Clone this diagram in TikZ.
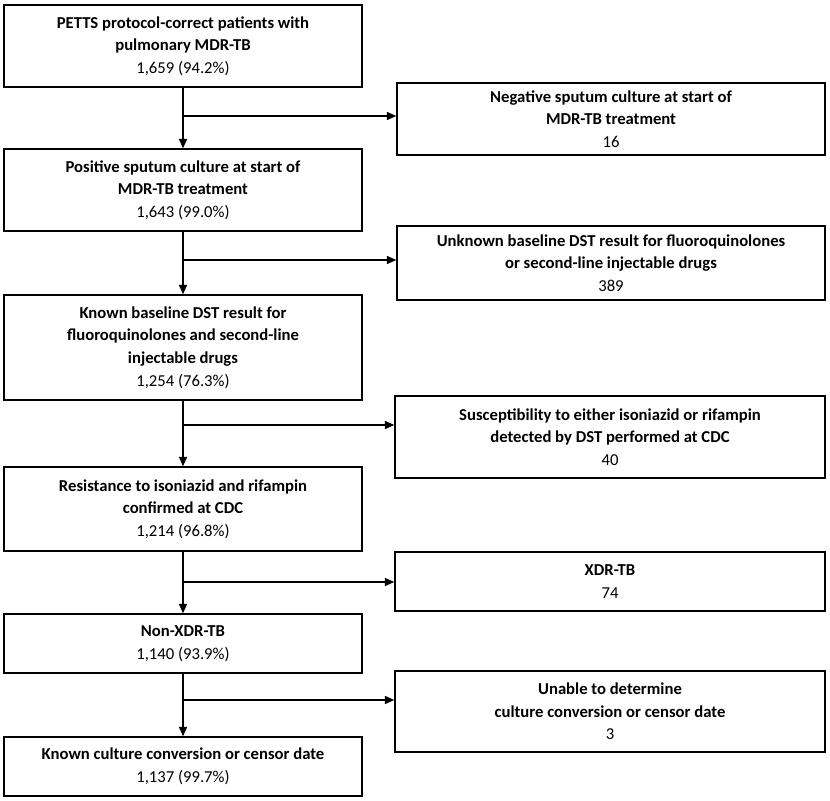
\documentclass[tikz,border=0pt]{standalone}
\usepackage{fontspec}
\setmainfont{Carlito}
\usetikzlibrary{arrows.meta}
\begin{document}
\begin{tikzpicture}[x=0.75pt,y=-0.75pt,
 box/.style={draw,line width=1.1pt,align=center,inner sep=0pt,font=\fontsize{12.5}{17}\selectfont},
 arr/.style={line width=1.1pt,-{Triangle[length=7pt,width=6pt]}}]
\useasboundingbox (0,0) rectangle (830,800);
\newcommand\bx[6]{\node[box,minimum width={(#3-#2)*0.75pt},minimum height={(#5-#4)*0.75pt}] (#1) at ({(#2+#3)/2},{(#4+#5)/2}) {#6};}
\bx{b1}{4}{362}{5}{87}{\textbf{PETTS protocol-correct patients with}\\\textbf{pulmonary MDR-TB}\\1,659 (94.2\%)}
\bx{b2}{4}{362}{149}{231}{\textbf{Positive sputum culture at start of}\\\textbf{MDR-TB treatment}\\1,643 (99.0\%)}
\bx{b3}{4}{362}{295}{400}{\textbf{Known baseline DST result for}\\\textbf{fluoroquinolones and second-line}\\\textbf{injectable drugs}\\1,254 (76.3\%)}
\bx{b4}{4}{362}{467}{551}{\textbf{Resistance to isoniazid and rifampin}\\\textbf{confirmed at CDC}\\1,214 (96.8\%)}
\bx{b5}{4}{362}{614}{673}{\textbf{Non-XDR-TB}\\1,140 (93.9\%)}
\bx{b6}{4}{362}{737}{796}{\textbf{Known culture conversion or censor date}\\1,137 (99.7\%)}
\bx{r1}{397}{825}{83}{155}{\textbf{Negative sputum culture at start of}\\\textbf{MDR-TB treatment}\\16}
\bx{r2}{397}{825}{226}{300}{\textbf{Unknown baseline DST result for fluoroquinolones}\\\textbf{or second-line injectable drugs}\\389}
\bx{r3}{395}{825}{396}{478}{\textbf{Susceptibility to either isoniazid or rifampin}\\\textbf{detected by DST performed at CDC}\\40}
\bx{r4}{395}{825}{552}{611}{\textbf{XDR-TB}\\74}
\bx{r5}{395}{825}{671}{752}{\textbf{Unable to determine}\\\textbf{culture conversion or censor date}\\3}
\foreach \a/\b/\r/\y in {b1/b2/r1/116,b2/b3/r2/260,b3/b4/r3/425,b4/b5/r4/582,b5/b6/r5/700}{
 \draw[arr] (\a.south) -- (\b.north);
 \coordinate (j\r) at (\a.south |- 0,\y);
 \draw[arr] (j\r) -- (\r.west |- j\r);
}
\end{tikzpicture}
\end{document}
